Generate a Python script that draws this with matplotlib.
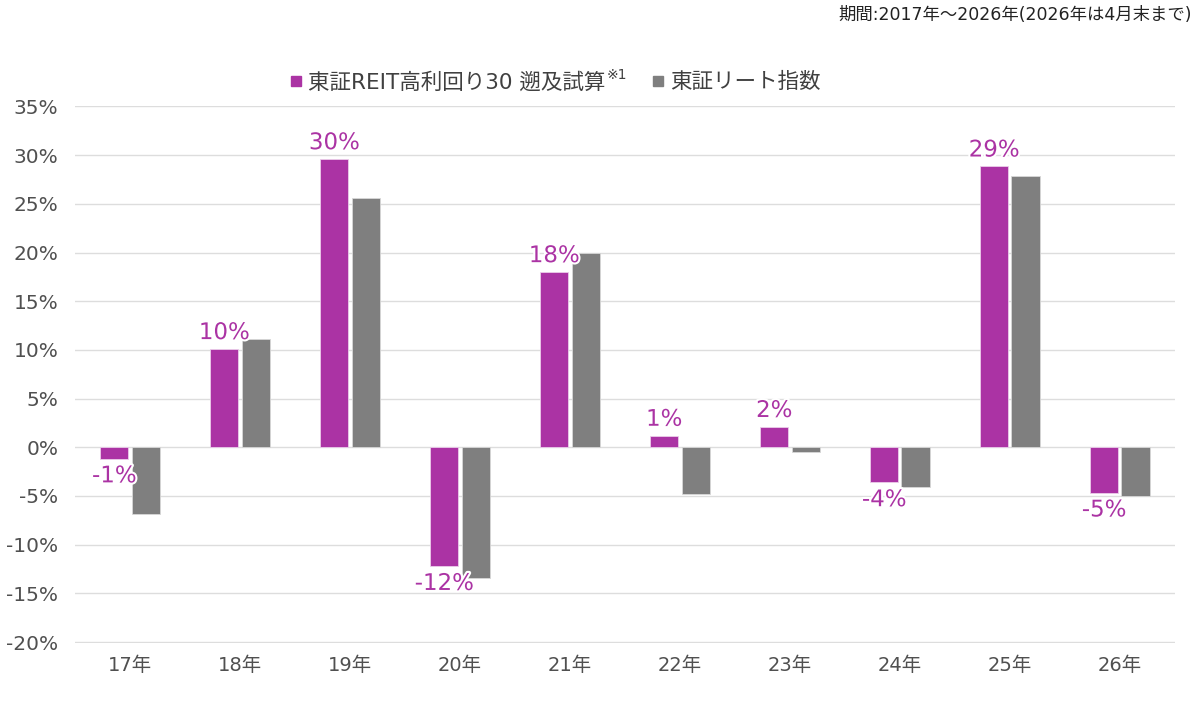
import matplotlib
matplotlib.use("Agg")
import matplotlib.pyplot as plt
import matplotlib.patheffects as pe
import numpy as np

plt.rcParams["font.family"] = ["DejaVu Sans", "Noto Sans CJK JP"]

years = ["17年", "18年", "19年", "20年", "21年", "22年", "23年", "24年", "25年", "26年"]
reit_high = [-1.15, 10.1, 29.6, -12.2, 18.0, 1.2, 2.1, -3.6, 28.85, -4.65]
reit_index = [-6.8, 11.1, 25.6, -13.4, 20.0, -4.8, -0.5, -4.05, 27.9, -5.05]
labels = ["-1%", "10%", "30%", "-12%", "18%", "1%", "2%", "-4%", "29%", "-5%"]
yticks = list(range(-20, 36, 5))

PURPLE = "#AB33A4"
GRAY = "#7F7F7F"
TXT = "#505050"

fig = plt.figure(figsize=(12, 7.02), dpi=100)
ax = fig.add_axes([0.0625, 0.084, 0.9165, 0.765])

x = np.arange(len(years))
w = 0.255
gap = 0.015
ax.bar(x - w / 2 - gap, reit_high, w, color=PURPLE, edgecolor="#EBCDEA", linewidth=0.6, zorder=3)
ax.bar(x + w / 2 + gap, reit_index, w, color=GRAY, edgecolor="#D8D8D8", linewidth=0.6, zorder=3)

for xi, v, t in zip(x, reit_high, labels):
    off = 0.5 if v >= 0 else -0.6
    va = "bottom" if v >= 0 else "top"
    ax.text(xi - w / 2 - gap, v + off, t, ha="center", va=va, fontsize=16.5, color=PURPLE, zorder=5,
            path_effects=[pe.withStroke(linewidth=3, foreground="white")])

ax.set_xlim(-0.5, len(years) - 0.5)
ax.set_ylim(-20.1, 35.05)
ax.set_yticks(yticks)
ax.set_yticklabels([f"{t}%" for t in yticks], fontsize=14.5, color=TXT)
ax.set_xticks(x)
ax.set_xticklabels(years, fontsize=14, color=TXT)
ax.tick_params(axis="both", length=0)
ax.tick_params(axis="y", pad=12)
ax.tick_params(axis="x", pad=9)
ax.grid(axis="y", color="#DDDDDD", linewidth=1, zorder=0)
for s in ax.spines.values():
    s.set_visible(False)

h1 = plt.Line2D([0], [0], marker="s", ls="", color=PURPLE, ms=7)
h2 = plt.Line2D([0], [0], marker="s", ls="", color=GRAY, ms=7)
leg = fig.legend([h1, h2], ["東証REIT高利回り30 遡及試算", "東証リート指数"], ncol=2,
                 loc="center", bbox_to_anchor=(0.463, 0.883), frameon=False, fontsize=15.5,
                 handlelength=0.5, handletextpad=0.3, columnspacing=2.2)
for t in leg.get_texts():
    t.set_color("#404040")

fig.canvas.draw()
r = fig.canvas.get_renderer()
bb = leg.get_texts()[0].get_window_extent(r)
inv = fig.transFigure.inverted()
# superscript note after first legend label
x1, y1 = inv.transform((bb.x1, bb.y1))
fig.text(x1 + 0.001, y1 + 0.006, "※1", fontsize=10, color="#404040", ha="left", va="top")

fig.text(0.993, 0.978, "期間:2017年～2026年(2026年は4月末まで)", fontsize=12.5, color="#222222",
         ha="right", va="center")

fig.savefig("out.png", dpi=100)
